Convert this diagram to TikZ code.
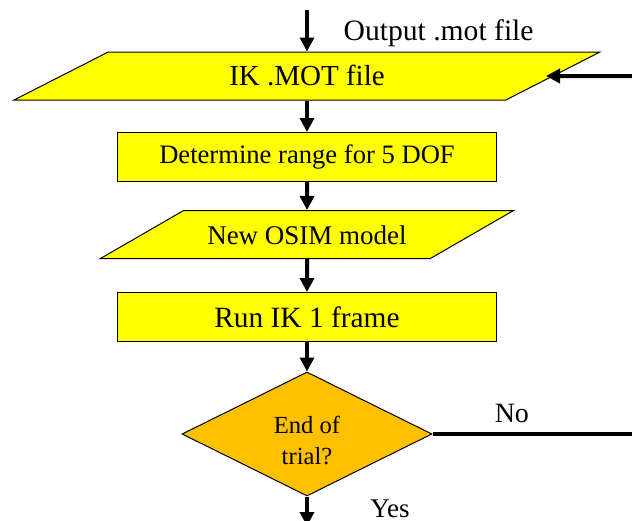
\documentclass[tikz,border=0pt]{standalone}
\usepackage{fontspec}
\setmainfont{Liberation Serif}
\usepackage{tikz}
\usetikzlibrary{shapes.geometric,arrows.meta}
\definecolor{ioyellow}{HTML}{FFFF00}
\definecolor{decorange}{HTML}{FFC000}

\begin{document}
\begin{tikzpicture}[node distance=2cm, auto, x=1pt, y=1pt]
    \tikzstyle{block} = [rectangle, draw=black, line width=0.5pt, fill=ioyellow, minimum width=189.5pt, minimum height=24.5pt, inner sep=0pt]
    \tikzstyle{io} = [trapezium, trapezium stretches body, draw=black, line width=0.5pt, fill=ioyellow, inner xsep=0pt, inner ysep=5.75pt, text height=11pt, text depth=1.5pt]
    \tikzstyle{decision} = [diamond, aspect=2, draw=black, line width=0.5pt, fill=decorange, minimum width=125pt, minimum height=62pt, inner sep=0pt]
    \tikzstyle{line} = [draw, -{Triangle[width=7pt, length=7pt]}, line width=2pt]

    \useasboundingbox [fill=white] (0,0) rectangle (316,-260);

    \node [io, trapezium left angle=27, trapezium right angle=153, minimum width=293pt, font=\fontsize{14.5}{17}\selectfont] (mot) at (153.5,-38) {IK .MOT file};
    \node [block, below of=mot, node distance=40.5pt, font=\fontsize{13.3}{16}\selectfont] (range) {Determine range for 5 DOF};
    \node [io, below of=range, node distance=38.75pt, trapezium left angle=30, trapezium right angle=150, minimum width=206.5pt, font=\fontsize{13.5}{16}\selectfont] (osim) {New OSIM model};
    \node [block, below of=osim, node distance=41.25pt, font=\fontsize{14.7}{17}\selectfont] (runik) {Run IK 1 frame};
    \node [decision, below of=runik, node distance=58.5pt, label={[align=center, yshift=-3.5pt, font=\fontsize{12.3}{15.5}\selectfont]center:End of\\trial?}] (endtrial) {};

    \coordinate (fromtop) at (153.5,-5);
    \coordinate (loopin) at (318,-38);
    \coordinate (loopout) at (318,-217);
    \coordinate (tobottom) at (153.5,-263);

    \path [line] (fromtop) -- node [pos=0.55, right=14pt, font=\fontsize{14.8}{17}\selectfont] (outlbl) {Output .mot file} (mot);
    \path [line] (mot) -- (range);
    \path [line] (range) -- (osim);
    \path [line] (osim) -- (runik);
    \path [line] (runik) -- (endtrial);
    \path [line, shorten >=-4pt] (loopin) -- (mot.east);
    \path [draw, line width=2pt] (endtrial.east) -- node [pos=0.39, above=1.2pt, font=\fontsize{14}{17}\selectfont] (nolbl) {No} (loopout);
    \path [line] (endtrial) -- (tobottom);
    \node [anchor=base west, inner sep=0pt, font=\fontsize{13.5}{16}\selectfont] (yeslbl) at (185,-258.5) {Yes};
\end{tikzpicture}
\end{document}
